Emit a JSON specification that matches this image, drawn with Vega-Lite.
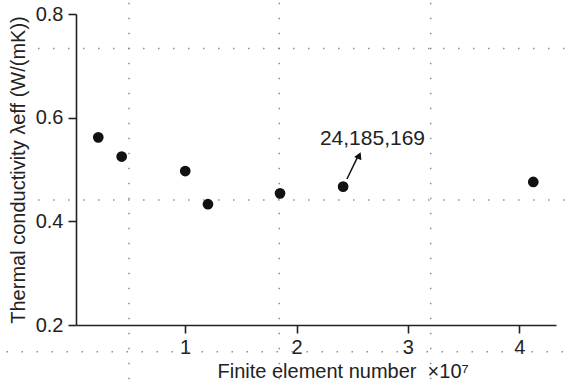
{
  "$schema": "https://vega.github.io/schema/vega-lite/v6.json",
  "width": 480,
  "height": 311,
  "autosize": {"type": "none"},
  "padding": {"left": 76, "top": 14, "right": 12, "bottom": 65},
  "background": "white",
  "config": {
    "view": {"stroke": null},
    "font": "Liberation Sans",
    "axis": {
      "grid": false,
      "domainColor": "#222222",
      "domainWidth": 1.6,
      "tickColor": "#222222",
      "tickWidth": 1.6,
      "tickSize": 8,
      "labelFont": "Liberation Sans",
      "labelFontSize": 20,
      "labelColor": "#222222",
      "titleFont": "Liberation Sans",
      "titleFontSize": 20,
      "titleFontWeight": "normal",
      "titleColor": "#222222"
    }
  },
  "datasets": {
    "points": [
      {"elements": 0.220, "conductivity": 0.562},
      {"elements": 0.430, "conductivity": 0.525},
      {"elements": 1.001, "conductivity": 0.497},
      {"elements": 1.205, "conductivity": 0.433},
      {"elements": 1.852, "conductivity": 0.454},
      {"elements": 2.4185169, "conductivity": 0.467},
      {"elements": 4.126, "conductivity": 0.476}
    ],
    "guides": [
      {"x": -0.321, "x2": 4.438, "y": 0.7334, "y2": 0.7334},
      {"x": -0.321, "x2": 4.438, "y": 0.4412, "y2": 0.4412},
      {"x": -0.604, "x2": 4.438, "y": 0.1485, "y2": 0.1485},
      {"x": 0.496, "x2": 0.496, "y": 0.8217, "y2": 0.092},
      {"x": 1.845, "x2": 1.845, "y": 0.8217, "y2": 0.092},
      {"x": 3.205, "x2": 3.205, "y": 0.8217, "y2": 0.092}
    ],
    "arrow": [
      {"x": 2.453, "y": 0.4817, "x2": 2.548, "y2": 0.524}
    ],
    "arrowhead": [
      {"x": 2.563, "y": 0.527}
    ],
    "label": [
      {"x": 2.682, "y": 0.5473, "text": "24,185,169"}
    ]
  },
  "layer": [
    {
      "data": {"name": "guides"},
      "mark": {"type": "rule", "color": "#8c8c8c", "strokeWidth": 1.5, "strokeDash": [1.5, 13.5], "strokeCap": "butt"},
      "encoding": {
        "x": {"field": "x", "type": "quantitative", "scale": {"domain": [0.02, 4.33], "nice": false, "zero": false},
          "axis": {"values": [1, 2, 3, 4], "format": "d", "labelPadding": 4,
            "title": "Finite element number\u00a0 ×10⁷", "titleAlign": "left", "titleAnchor": "start",
            "titleX": 141, "titleY": 52, "titleBaseline": "alphabetic"}},
        "x2": {"field": "x2"},
        "y": {"field": "y", "type": "quantitative", "scale": {"domain": [0.2, 0.8], "nice": false, "zero": false},
          "axis": {"values": [0.2, 0.4, 0.6, 0.8], "format": ".1f", "labelPadding": 5,
            "title": "Thermal conductivity λeff (W/(mK))", "titleX": -52, "titleY": 155.5,
            "titleBaseline": "alphabetic", "titleAngle": -90, "titleAlign": "center"}},
        "y2": {"field": "y2"}
      }
    },
    {
      "data": {"name": "points"},
      "mark": {"type": "circle", "color": "#111111", "opacity": 1, "size": 115},
      "encoding": {
        "x": {"field": "elements", "type": "quantitative"},
        "y": {"field": "conductivity", "type": "quantitative"}
      }
    },
    {
      "data": {"name": "arrow"},
      "mark": {"type": "rule", "color": "#111111", "strokeWidth": 1.5},
      "encoding": {
        "x": {"field": "x", "type": "quantitative"},
        "y": {"field": "y", "type": "quantitative"},
        "x2": {"field": "x2"},
        "y2": {"field": "y2"}
      }
    },
    {
      "data": {"name": "arrowhead"},
      "mark": {"type": "point", "shape": "triangle-up", "filled": true, "color": "#111111", "opacity": 1, "size": 64, "angle": 25},
      "encoding": {
        "x": {"field": "x", "type": "quantitative"},
        "y": {"field": "y", "type": "quantitative"}
      }
    },
    {
      "data": {"name": "label"},
      "mark": {"type": "text", "font": "Liberation Sans", "fontSize": 21, "color": "#222222", "align": "center", "baseline": "alphabetic"},
      "encoding": {
        "x": {"field": "x", "type": "quantitative"},
        "y": {"field": "y", "type": "quantitative"},
        "text": {"field": "text"}
      }
    }
  ]
}
